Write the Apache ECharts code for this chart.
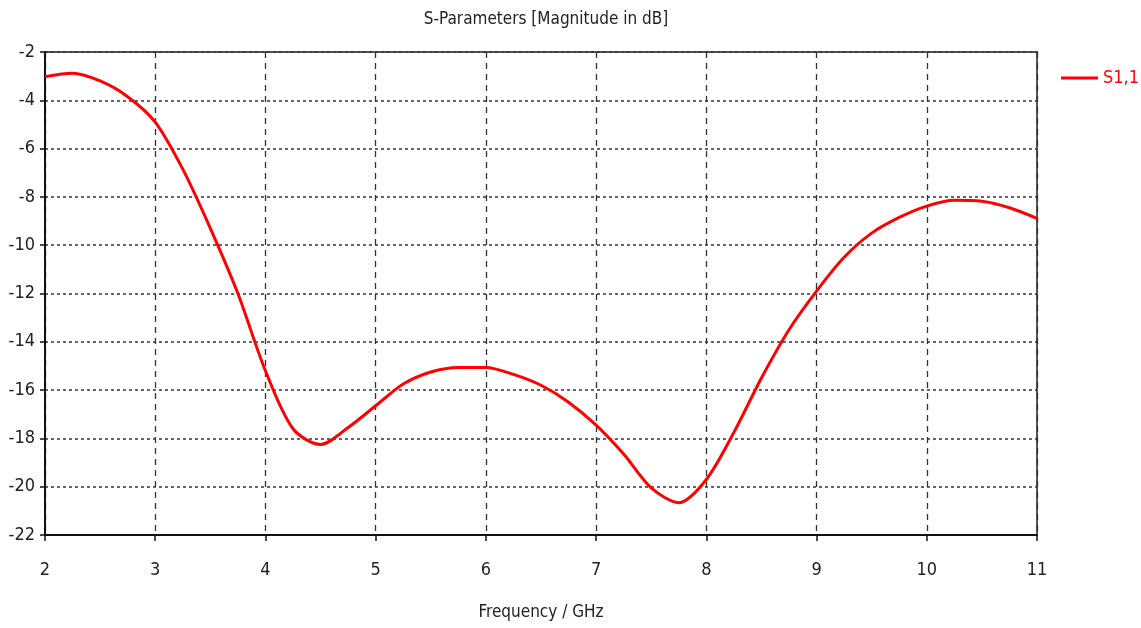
<!DOCTYPE html>
<html>
<head>
<meta charset="utf-8">
<title>S-Parameters</title>
<script src="https://cdn.jsdelivr.net/npm/echarts@6/dist/echarts.min.js"></script>
<style>
  html, body { margin: 0; padding: 0; background: #fff; }
  #chart { width: 1141px; height: 628px; }
</style>
</head>
<body>
<div id="chart"></div>
<script>
// frequency in GHz (0.25 steps), S1,1 in dB
var freq = [2.0, 2.25, 2.5, 2.75, 3.0, 3.25, 3.5, 3.75, 4.0, 4.25, 4.5, 4.75, 5.0,
            5.25, 5.5, 5.75, 6.0, 6.25, 6.5, 6.75, 7.0, 7.25, 7.5, 7.75, 8.0,
            8.25, 8.5, 8.75, 9.0, 9.25, 9.5, 9.75, 10.0, 10.25, 10.5, 10.75, 11.0];
var s11 = [-3.02, -2.88, -3.2, -3.85, -4.9, -6.85, -9.3, -12.0, -15.2, -17.6, -18.25, -17.55, -16.65,
           -15.75, -15.25, -15.06, -15.06, -15.35, -15.8, -16.5, -17.45, -18.65, -20.05, -20.66, -19.7,
           -17.75, -15.5, -13.5, -11.9, -10.5, -9.5, -8.85, -8.38, -8.14, -8.18, -8.45, -8.89];
var seriesName = 'S1,1';
var titleText = 'S-Parameters [Magnitude in dB]';
var xName = 'Frequency / GHz';

(function () {
    function loadChart() {
        var chartDom = document.getElementById('chart');
        var myChart = echarts.init(chartDom);
        var font = '"Liberation Sans Narrow", "DejaVu Sans Condensed", sans-serif';

        var points = [];
        for (var i = 0; i < freq.length; i++) {
            points.push([freq[i], s11[i]]);
        }

        var option = {
            animation: false,
            textStyle: { fontFamily: font },
            title: {
                text: titleText,
                left: 541,
                textAlign: 'center',
                top: 6,
                textStyle: { fontFamily: font, fontSize: 17, fontWeight: 'normal', color: '#222' }
            },
            legend: {
                data: [seriesName],
                left: 1056,
                top: 64,
                icon: 'rect',
                itemWidth: 37,
                itemHeight: 3,
                itemGap: 6,
                textStyle: { fontFamily: font, fontSize: 18, color: '#ff0000' }
            },
            grid: {
                left: 45,
                right: 104,
                top: 52,
                bottom: 93,
                outerBoundsMode: 'none',
                show: true,
                borderColor: '#555',
                borderWidth: 2
            },
            xAxis: {
                type: 'value',
                min: 2,
                max: 11,
                interval: 1,
                name: xName,
                nameLocation: 'middle',
                nameGap: 69,
                nameTextStyle: { fontFamily: font, fontSize: 17, color: '#222' },
                axisLine: { onZero: false, lineStyle: { color: '#111', width: 2 } },
                axisTick: { show: true, length: 6, lineStyle: { color: '#111', width: 1.5 } },
                axisLabel: { margin: 26, fontSize: 18, color: '#222', fontFamily: font },
                splitLine: { show: true, lineStyle: { color: '#333', type: [6, 5], width: 1.3 } }
            },
            yAxis: {
                type: 'value',
                min: -22,
                max: -2,
                interval: 2,
                axisLine: { show: true, onZero: false, lineStyle: { color: '#111', width: 2 } },
                axisTick: { show: true, length: 5, lineStyle: { color: '#111', width: 1.5 } },
                axisLabel: { margin: 10, fontSize: 18, color: '#222', fontFamily: font },
                splitLine: { show: true, lineStyle: { color: '#333', type: [3, 3], width: 1.5 } }
            },
            series: [
                {
                    name: seriesName,
                    type: 'line',
                    data: points,
                    smooth: 0.3,
                    showSymbol: false,
                    lineStyle: { color: '#ff0000', width: 3 },
                    itemStyle: { color: '#ff0000' }
                }
            ]
        };

        option && myChart.setOption(option);
    }
    loadChart();
})();
</script>
</body>
</html>
